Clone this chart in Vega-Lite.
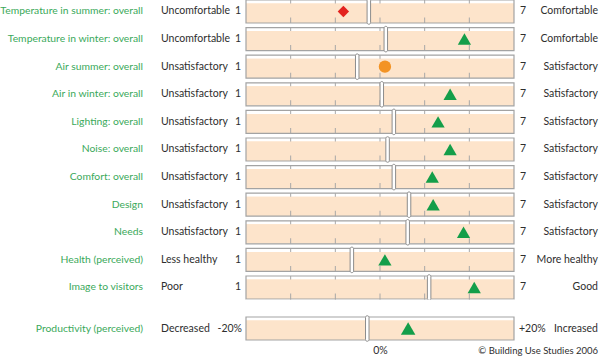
{
  "$schema": "https://vega.github.io/schema/vega-lite/v6.json",
  "autosize": "none",
  "width": 268,
  "height": 340,
  "padding": {"left": 246, "right": 86, "top": 0, "bottom": 18},
  "background": "white",
  "config": {"view": {"stroke": null}, "font": "Lato"},
  "datasets": {
    "rows": [
      {"label": "Temperature in summer: overall", "low": "Uncomfortable", "high": "Comfortable", "benchmark": 3.75, "score": 3.18, "status": "worse"},
      {"label": "Temperature in winter: overall", "low": "Uncomfortable", "high": "Comfortable", "benchmark": 4.13, "score": 5.89, "status": "better"},
      {"label": "Air summer: overall", "low": "Unsatisfactory", "high": "Satisfactory", "benchmark": 3.49, "score": 4.11, "status": "similar"},
      {"label": "Air in winter: overall", "low": "Unsatisfactory", "high": "Satisfactory", "benchmark": 4.04, "score": 5.57, "status": "better"},
      {"label": "Lighting: overall", "low": "Unsatisfactory", "high": "Satisfactory", "benchmark": 4.31, "score": 5.3, "status": "better"},
      {"label": "Noise: overall", "low": "Unsatisfactory", "high": "Satisfactory", "benchmark": 4.17, "score": 5.57, "status": "better"},
      {"label": "Comfort: overall", "low": "Unsatisfactory", "high": "Satisfactory", "benchmark": 4.31, "score": 5.17, "status": "better"},
      {"label": "Design", "low": "Unsatisfactory", "high": "Satisfactory", "benchmark": 4.65, "score": 5.19, "status": "better"},
      {"label": "Needs", "low": "Unsatisfactory", "high": "Satisfactory", "benchmark": 4.62, "score": 5.87, "status": "better"},
      {"label": "Health (perceived)", "low": "Less healthy", "high": "More healthy", "benchmark": 3.37, "score": 4.11, "status": "better"},
      {"label": "Image to visitors", "low": "Poor", "high": "Good", "benchmark": 5.1, "score": 6.11, "status": "better"}
    ],
    "prod": [
      {"label": "Productivity (perceived)", "low": "Decreased", "high": "Increased", "benchmark": -1.9, "score": 4.2, "status": "better"}
    ],
    "ticks7": [{"t": 2}, {"t": 3}, {"t": 4}, {"t": 5}, {"t": 6}],
    "ticksPct": [{"t": -15}, {"t": -10}, {"t": -5}, {"t": 0}, {"t": 5}, {"t": 10}, {"t": 15}]
  },
  "resolve": {"scale": {"x": "independent", "y": "independent"}, "axis": {"x": "independent", "y": "independent"}},
  "layer": [
    {
      "data": {"name": "rows"},
      "encoding": {
        "y": {"field": "label", "type": "nominal", "sort": null, "axis": null, "scale": {"paddingInner": 0.167, "paddingOuter": 0.743, "align": 0}}
      },
      "layer": [
        {"mark": {"type": "rect", "color": "#fde4cb"}, "encoding": {"x": {"datum": 1, "type": "quantitative", "scale": {"domain": [1, 7], "nice": false, "zero": false}, "axis": null}, "x2": {"datum": 7}}},
        {"mark": {"type": "rule", "color": "white", "strokeWidth": 7, "yOffset": -11.5}, "encoding": {"x": {"datum": 1, "type": "quantitative"}, "x2": {"datum": 7}}},
        {"data": {"name": "ticks7"}, "mark": {"type": "rule", "color": "#a8a8a8", "strokeWidth": 1}, "encoding": {"x": {"field": "t", "type": "quantitative"}, "y": null}},
        {"mark": {"type": "rule", "color": "#fde4cb", "strokeWidth": 14, "yOffset": -1}, "encoding": {"x": {"datum": 1, "type": "quantitative"}, "x2": {"datum": 7}}},
        {"mark": {"type": "rule", "color": "white", "strokeWidth": 4.6, "yOffset": -13.8}, "encoding": {"x": {"datum": 1, "type": "quantitative"}, "x2": {"datum": 7}}},
        {"mark": {"type": "rect", "fill": null, "fillOpacity": 0, "stroke": "#a3a3a3", "strokeWidth": 1.2}, "encoding": {"x": {"datum": 1, "type": "quantitative"}, "x2": {"datum": 7}}},
        {"mark": {"type": "tick", "orient": "vertical", "size": 25.5, "thickness": 3.5, "color": "white", "stroke": "#8c8c8c", "strokeWidth": 1, "cornerRadius": 1.7, "opacity": 1}, "encoding": {"x": {"field": "benchmark", "type": "quantitative"}}},
        {"mark": {"type": "point", "filled": true, "opacity": 1}, "encoding": {"x": {"field": "score", "type": "quantitative"}, "shape": {"field": "status", "type": "nominal", "scale": {"domain": ["worse", "similar", "better"], "range": ["diamond", "circle", "triangle-up"]}, "legend": null}, "color": {"field": "status", "type": "nominal", "scale": {"domain": ["worse", "similar", "better"], "range": ["#e3231f", "#f39324", "#149e49"]}, "legend": null}, "size": {"field": "status", "type": "nominal", "scale": {"domain": ["worse", "similar", "better"], "range": [130, 175, 210]}, "legend": null}}},
        {"mark": {"type": "text", "align": "right", "baseline": "middle", "dx": -103, "fontSize": 10.35, "color": "#3aa95a"}, "encoding": {"x": {"datum": 1, "type": "quantitative"}, "text": {"field": "label"}}},
        {"mark": {"type": "text", "align": "left", "baseline": "middle", "dx": -85, "fontSize": 10.5, "color": "#2e2e2e"}, "encoding": {"x": {"datum": 1, "type": "quantitative"}, "text": {"field": "low"}}},
        {"mark": {"type": "text", "align": "right", "baseline": "middle", "dx": -5, "fontSize": 10.5, "color": "#2e2e2e", "text": "1"}, "encoding": {"x": {"datum": 1, "type": "quantitative"}}},
        {"mark": {"type": "text", "align": "left", "baseline": "middle", "dx": 6, "fontSize": 10.5, "color": "#2e2e2e", "text": "7"}, "encoding": {"x": {"datum": 7, "type": "quantitative"}}},
        {"mark": {"type": "text", "align": "right", "baseline": "middle", "dx": 84, "fontSize": 10.5, "color": "#2e2e2e"}, "encoding": {"x": {"datum": 7, "type": "quantitative"}, "text": {"field": "high"}}}
      ]
    },
    {
      "data": {"name": "prod"},
      "encoding": {
        "y": {"field": "label", "type": "nominal", "sort": null, "axis": null, "scale": {"paddingInner": 0.855, "paddingOuter": 1, "align": 1}}
      },
      "layer": [
        {"mark": {"type": "rule", "color": "white", "strokeWidth": 17, "yOffset": -20.2}, "encoding": {"x": {"datum": -20, "type": "quantitative", "scale": {"domain": [-20, 20], "nice": false, "zero": false}, "axis": {"orient": "bottom", "values": [0], "labelExpr": "'0%'", "domain": false, "ticks": false, "grid": false, "labelPadding": 5, "labelFontSize": 10.5, "labelColor": "#2e2e2e", "labelFont": "Lato", "title": null}}, "x2": {"datum": 20}}},
        {"mark": {"type": "rect", "color": "#fde4cb"}, "encoding": {"x": {"datum": -20, "type": "quantitative"}, "x2": {"datum": 20}}},
        {"mark": {"type": "rule", "color": "white", "strokeWidth": 7, "yOffset": -11.5}, "encoding": {"x": {"datum": -20, "type": "quantitative"}, "x2": {"datum": 20}}},
        {"data": {"name": "ticksPct"}, "mark": {"type": "rule", "color": "#a8a8a8", "strokeWidth": 1}, "encoding": {"x": {"field": "t", "type": "quantitative"}, "y": {"datum": "Productivity (perceived)", "type": "nominal"}}},
        {"mark": {"type": "rule", "color": "#fde4cb", "strokeWidth": 14, "yOffset": -1}, "encoding": {"x": {"datum": -20, "type": "quantitative"}, "x2": {"datum": 20}}},
        {"mark": {"type": "rect", "fill": null, "fillOpacity": 0, "stroke": "#a3a3a3", "strokeWidth": 1.2}, "encoding": {"x": {"datum": -20, "type": "quantitative"}, "x2": {"datum": 20}}},
        {"mark": {"type": "tick", "orient": "vertical", "size": 25.5, "thickness": 3.5, "color": "white", "stroke": "#8c8c8c", "strokeWidth": 1, "cornerRadius": 1.7, "opacity": 1}, "encoding": {"x": {"field": "benchmark", "type": "quantitative"}}},
        {"mark": {"type": "point", "filled": true, "opacity": 1, "size": 210, "shape": "triangle-up", "color": "#149e49"}, "encoding": {"x": {"field": "score", "type": "quantitative"}}},
        {"mark": {"type": "text", "align": "right", "baseline": "middle", "dx": -103, "fontSize": 10.35, "color": "#3aa95a"}, "encoding": {"x": {"datum": -20, "type": "quantitative"}, "text": {"field": "label"}}},
        {"mark": {"type": "text", "align": "left", "baseline": "middle", "dx": -85, "fontSize": 10.5, "color": "#2e2e2e"}, "encoding": {"x": {"datum": -20, "type": "quantitative"}, "text": {"field": "low"}}},
        {"mark": {"type": "text", "align": "right", "baseline": "middle", "dx": -4, "fontSize": 10.5, "color": "#2e2e2e", "text": "-20%"}, "encoding": {"x": {"datum": -20, "type": "quantitative"}}},
        {"mark": {"type": "text", "align": "left", "baseline": "middle", "dx": 5, "fontSize": 10.5, "color": "#2e2e2e", "text": "+20%"}, "encoding": {"x": {"datum": 20, "type": "quantitative"}}},
        {"mark": {"type": "text", "align": "right", "baseline": "middle", "dx": 84, "fontSize": 10.5, "color": "#2e2e2e"}, "encoding": {"x": {"datum": 20, "type": "quantitative"}, "text": {"field": "high"}}},
        {"mark": {"type": "text", "align": "right", "baseline": "middle", "dx": 84, "dy": 22, "fontSize": 9.5, "color": "#2e2e2e", "text": "© Building Use Studies 2006"}, "encoding": {"x": {"datum": 20, "type": "quantitative"}}}
      ]
    }
  ]
}
